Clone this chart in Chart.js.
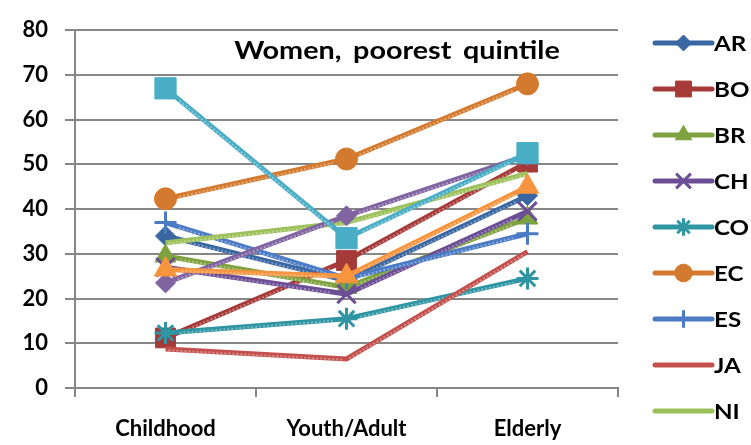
<!DOCTYPE html>
<html>
<head>
<meta charset="utf-8">
<script src="https://cdn.jsdelivr.net/npm/chart.js@4/dist/chart.umd.min.js"></script>
<style>
  html, body { margin: 0; padding: 0; background: #ffffff; }
  #wrap { width: 751px; height: 445px; }
</style>
</head>
<body>
<div id="wrap"><canvas id="myChart" width="751" height="445"></canvas></div>
<script>
// life stages on the x axis
const stages = ["Childhood", "Youth/Adult", "Elderly"];
const yMin = 0;
const yMax = 80;
const yStep = 10;

// one small list per country, values for Childhood, Youth/Adult, Elderly
const arValues = [34, 24, 43];
const boValues = [11.2, 28.5, 50.5];
const brValues = [29.5, 22.5, 38];
const chValues = [27, 21, 39.5];
const coValues = [12.3, 15.5, 24.5];
const ecValues = [42.3, 51.2, 68];
const esValues = [37, 24.5, 34.5];
const jaValues = [8.7, 6.5, 30.5];
const niValues = [32.5, 37, 48];
const paValues = [23.5, 38.5, 52];
const peValues = [67, 33.5, 52.5];
const pyValues = [26.5, 25, 45];

const countries = ["AR", "BO", "BR", "CH", "CO", "EC", "ES", "JA", "NI", "PA", "PE", "PY"];
const seriesValues = [arValues, boValues, brValues, chValues, coValues, ecValues,
  esValues, jaValues, niValues, paValues, peValues, pyValues];

// only the first nine fit in the legend column
const legendCount = 9;

const seriesStyle = [
  { color: "#3A66A1", point: "rectRot", radius: 10 },
  { color: "#A53A38", point: "rect", radius: 14 },
  { color: "#7EA23D", point: "triangle", radius: 12 },
  { color: "#6C4E95", point: "crossRot", radius: 13 },
  { color: "#2F95A3", point: "star", radius: 11 },
  { color: "#D47A2E", point: "circle", radius: 11 },
  { color: "#4A7BC4", point: "cross", radius: 11 },
  { color: "#C3504C", point: "circle", radius: 0 },
  { color: "#9CC05A", point: "circle", radius: 0 },
  { color: "#8064A2", point: "rectRot", radius: 10 },
  { color: "#4AADC6", point: "rect", radius: 15 },
  { color: "#F7943E", point: "triangle", radius: 13 },
];

const FONT = "Lato";
const gridColor = "#878787";
const textStretch = 1.15; // lettering in this figure runs wide

const datasets = countries.map((name, i) => {
  const st = seriesStyle[i];
  const lineMarker = st.point === "cross" || st.point === "crossRot" || st.point === "star";
  return {
    label: name,
    data: seriesValues[i],
    borderColor: st.color,
    backgroundColor: st.color,
    borderWidth: 5,
    pointStyle: st.point,
    pointRadius: st.radius,
    pointHoverRadius: st.radius,
    pointBackgroundColor: st.color,
    pointBorderColor: st.color,
    pointBorderWidth: lineMarker ? 3 : 1,
    tension: 0,
    order: -i, // later series sit on top
  };
});

// faint dotted highlight running along each line, between the markers
const lineSheen = {
  id: "lineSheen",
  afterDatasetDraw(chart, args) {
    const pts = args.meta.data;
    const ds = chart.data.datasets[args.index];
    const ctx = chart.ctx;
    ctx.save();
    ctx.strokeStyle = "rgba(255,255,255,0.35)";
    ctx.lineWidth = 2;
    ctx.setLineDash([2, 2]);
    for (let k = 0; k < pts.length - 1; k++) {
      const a = pts[k], b = pts[k + 1];
      const dx = b.x - a.x, dy = b.y - a.y;
      const len = Math.hypot(dx, dy);
      const cut = (ds.pointRadius || 0) + 3;
      const ux = dx / len, uy = dy / len;
      ctx.beginPath();
      ctx.moveTo(a.x + ux * cut, a.y + uy * cut + 1);
      ctx.lineTo(b.x - ux * cut, b.y - uy * cut + 1);
      ctx.stroke();
    }
    ctx.restore();
  },
};

function wideText(ctx, text, x, y, align) {
  ctx.save();
  ctx.translate(x, y);
  ctx.scale(textStretch, 1);
  ctx.textAlign = align;
  ctx.fillText(text, 0, 0);
  ctx.restore();
}

const titlePlugin = {
  id: "innerTitle",
  afterDraw(chart) {
    const ctx = chart.ctx;
    ctx.save();
    ctx.font = "bold 25px " + FONT;
    ctx.fillStyle = "#000";
    ctx.textBaseline = "middle";
    ctx.wordSpacing = "4px";
    wideText(ctx, "Women, poorest quintile", 397, 51, "center");
    ctx.restore();
  },
};

// legend drawn as line sample + marker, like a spreadsheet legend
const sideLegend = {
  id: "sideLegend",
  afterDraw(chart) {
    const ctx = chart.ctx;
    const x0 = 655, x1 = 712, top = 43, gap = 46;
    ctx.save();
    for (let i = 0; i < legendCount; i++) {
      const ds = chart.data.datasets[i];
      const y = top + i * gap;
      ctx.strokeStyle = ds.borderColor;
      ctx.lineWidth = 5;
      ctx.lineCap = "round";
      ctx.beginPath();
      ctx.moveTo(x0, y);
      ctx.lineTo(x1, y);
      ctx.stroke();
      if (ds.pointRadius > 0) {
        ctx.fillStyle = ds.borderColor;
        ctx.strokeStyle = ds.borderColor;
        ctx.lineWidth = ds.pointBorderWidth;
        ctx.lineCap = "butt";
        Chart.helpers.drawPoint(ctx, {
          pointStyle: ds.pointStyle,
          radius: ds.pointRadius * 0.8,
          rotation: 0,
          borderWidth: ds.pointBorderWidth,
        }, (x0 + x1) / 2, y);
      }
      ctx.fillStyle = "#000";
      ctx.font = "bold 21px " + FONT;
      ctx.textBaseline = "middle";
      wideText(ctx, ds.label, x1 + 2, y + 1, "left");
    }
    ctx.restore();
  },
};

const ctx = document.getElementById("myChart").getContext("2d");

new Chart(ctx, {
  type: "line",
  data: {
    labels: stages,
    datasets: datasets,
  },
  options: {
    responsive: false,
    animation: false,
    devicePixelRatio: 1,
    layout: {
      padding: { left: 0, right: 133, top: 24, bottom: 0 },
    },
    plugins: {
      legend: { display: false },
      tooltip: { enabled: false },
      title: { display: false },
    },
    scales: {
      x: {
        type: "category",
        offset: true,
        grid: {
          offset: true,
          drawOnChartArea: false,
          drawTicks: true,
          tickLength: 9,
          color: gridColor,
          lineWidth: 2,
        },
        border: { color: gridColor, width: 2 },
        ticks: {
          color: "#000",
          font: { family: FONT, size: 22, weight: "bold" },
          padding: 19,
          maxRotation: 0,
        },
        afterFit(scale) {
          scale.height = 57;
        },
      },
      y: {
        min: yMin,
        max: yMax,
        ticks: {
          stepSize: yStep,
          color: "#000",
          font: { family: FONT, size: 22, weight: "bold" },
          padding: 17,
        },
        grid: {
          color: gridColor,
          lineWidth: 2,
          tickLength: 10,
        },
        border: { color: gridColor, width: 2 },
        afterFit(scale) {
          scale.width = 75;
        },
      },
    },
  },
  plugins: [lineSheen, titlePlugin, sideLegend],
});
</script>
</body>
</html>
